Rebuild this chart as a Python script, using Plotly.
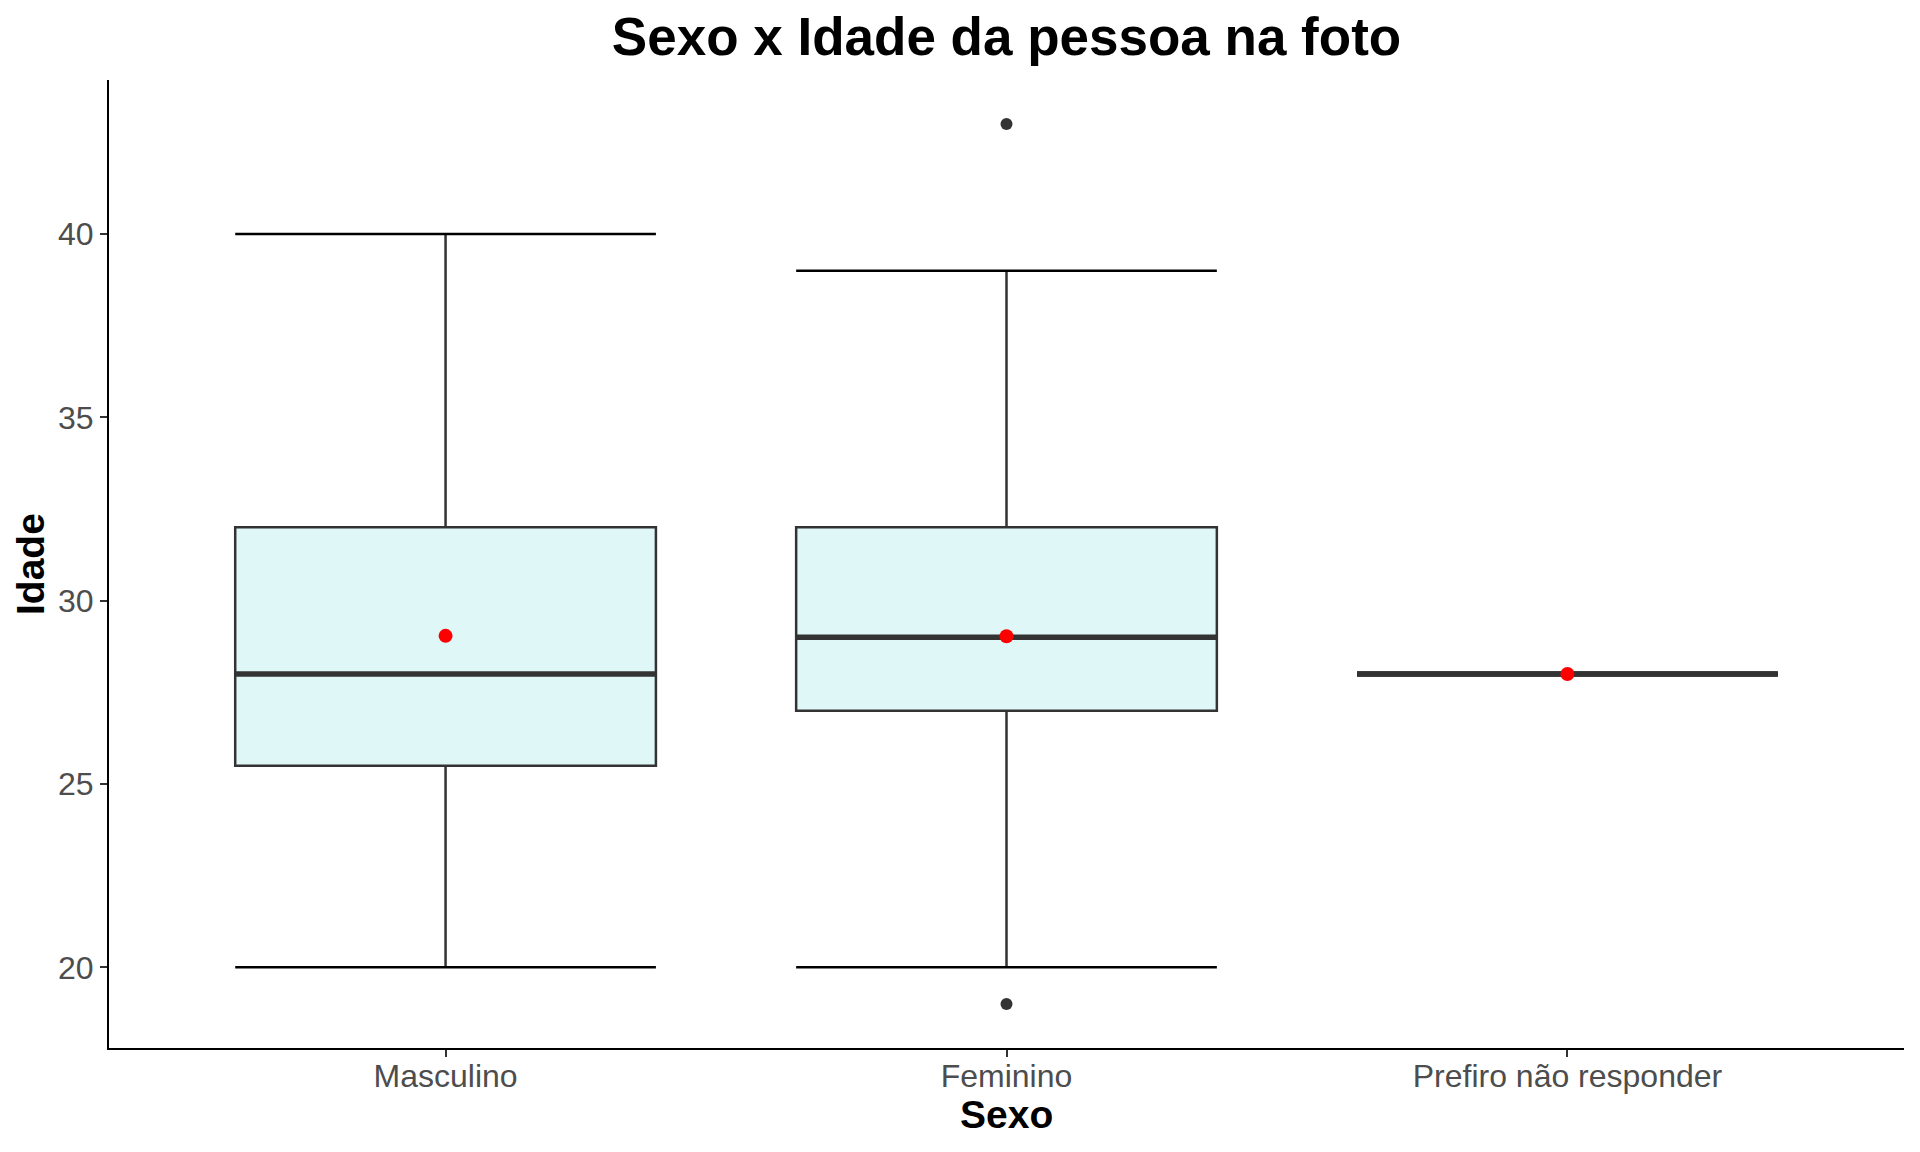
import plotly.graph_objects as go

categories = ["Masculino", "Feminino", "Prefiro não responder"]
q1 = [25.5, 27, 28]
median = [28, 29, 28]
q3 = [32, 32, 28]
lower_whisker = [20, 20, 28]
upper_whisker = [40, 39, 28]
means = [29.04, 29.03, 28]
outlier_cat = [1, 1]
outlier_vals = [43, 19]
y_ticks = [20, 25, 30, 35, 40]

BOX_W = 0.75
half = BOX_W / 2
xs = list(range(len(categories)))

fig = go.Figure()

for i, c in enumerate(categories):
    fig.add_trace(go.Box(
        x=[xs[i]], q1=[q1[i]], median=[median[i]], q3=[q3[i]],
        lowerfence=[lower_whisker[i]], upperfence=[upper_whisker[i]],
        width=BOX_W, whiskerwidth=0, boxpoints=False,
        fillcolor="#E0F7F7", line=dict(color="#333333", width=2.5),
        name=c, showlegend=False, hoverinfo="skip",
    ))

# thick median lines
mx, my = [], []
for i in xs:
    mx += [i - half, i + half, None]
    my += [median[i], median[i], None]
fig.add_trace(go.Scatter(x=mx, y=my, mode="lines",
                         line=dict(color="#333333", width=5.5),
                         showlegend=False, hoverinfo="skip"))

# whisker caps (errorbar)
cx, cy = [], []
for i in xs:
    for v in (lower_whisker[i], upper_whisker[i]):
        cx += [i - half, i + half, None]
        cy += [v, v, None]
fig.add_trace(go.Scatter(x=cx, y=cy, mode="lines",
                         line=dict(color="#000000", width=2.5),
                         showlegend=False, hoverinfo="skip"))

# redraw median for the single-value group on top of caps
fig.add_trace(go.Scatter(x=[2 - half, 2 + half], y=[median[2], median[2]], mode="lines",
                         line=dict(color="#333333", width=5.5),
                         showlegend=False, hoverinfo="skip"))

# outliers
fig.add_trace(go.Scatter(x=outlier_cat, y=outlier_vals, mode="markers",
                         marker=dict(color="#333333", size=12),
                         showlegend=False, hoverinfo="skip"))

# means
fig.add_trace(go.Scatter(x=xs, y=means, mode="markers",
                         marker=dict(color="#FF0000", size=14),
                         showlegend=False, hoverinfo="skip"))

fig.update_layout(
    width=1920, height=1152,
    margin=dict(l=109, r=16, t=80, b=104),
    paper_bgcolor="white", plot_bgcolor="white",
    font=dict(family="Liberation Sans, Arial, sans-serif"),
    title=dict(text="<b>Sexo x Idade da pessoa na foto</b>",
               font=dict(size=53, color="black"),
               x=0.5, xref="paper", xanchor="center",
               y=1 - 36 / 1152, yref="container", yanchor="middle"),
    xaxis=dict(range=[-0.6, 2.6], tickvals=xs, ticktext=categories,
               showgrid=False, zeroline=False,
               showline=True, linecolor="black", linewidth=2,
               ticks="outside", ticklen=7, tickwidth=2, tickcolor="#333333",
               tickfont=dict(size=32, color="#4D4D4D"),
               ticklabelstandoff=-8),
    yaxis=dict(range=[17.8, 44.2], tickvals=y_ticks,
               showgrid=False, zeroline=False,
               showline=True, linecolor="black", linewidth=2,
               ticks="outside", ticklen=7, tickwidth=2, tickcolor="#333333",
               tickfont=dict(size=32, color="#4D4D4D"),
               ticklabelstandoff=0),
    annotations=[
        dict(text="<b>Sexo</b>", x=0.5, xref="paper", y=(1048 - 1114) / 968, yref="paper",
             xanchor="center", yanchor="middle", showarrow=False,
             font=dict(size=39, color="black")),
        dict(text="<b>Idade</b>", x=(30 - 109) / 1795, xref="paper", y=0.5, yref="paper",
             xanchor="center", yanchor="middle", showarrow=False, textangle=-90,
             font=dict(size=39, color="black")),
    ],
)

fig.write_html("out.html")
